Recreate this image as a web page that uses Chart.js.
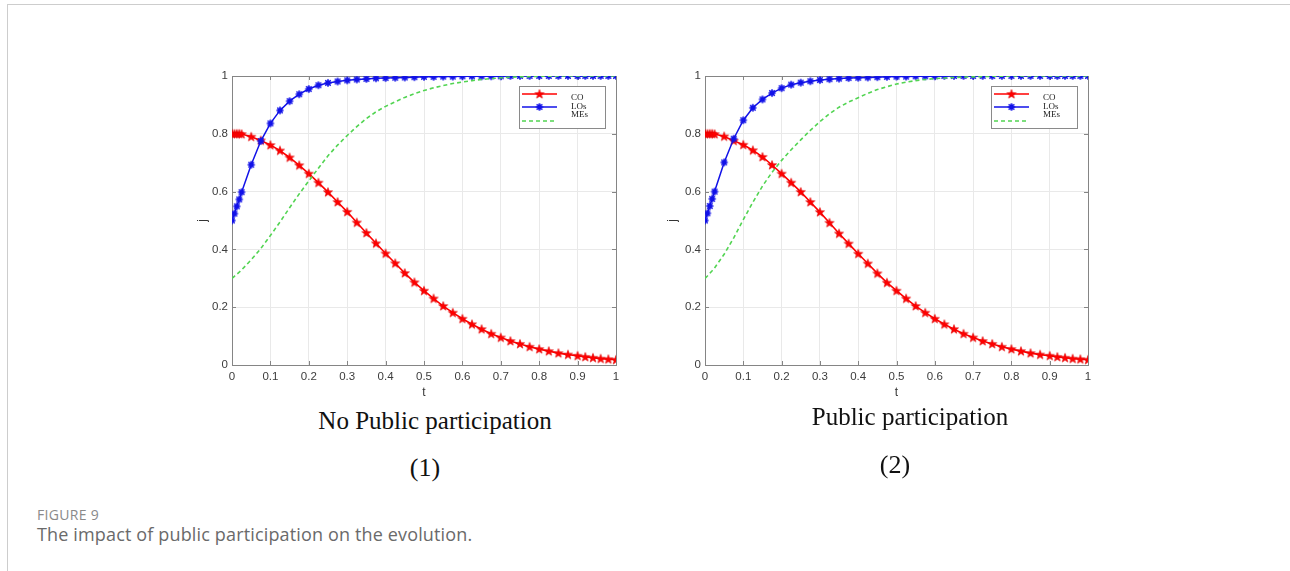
<!DOCTYPE html>
<html>
<head>
<meta charset="utf-8">
<script src="https://cdn.jsdelivr.net/npm/chart.js@4.4.1/dist/chart.umd.min.js"></script>
<style>
  html, body { margin: 0; padding: 0; background: #fff; }
  body { width: 1290px; height: 571px; position: relative; overflow: hidden; }
  .frame { position: absolute; left: 7px; top: 4px; width: 1300px; height: 620px;
           border-left: 1px solid #cdcdcd; border-top: 1px solid #cdcdcd; }
  canvas { position: absolute; }
  .sub { position: absolute; font-family: "Liberation Serif", "Times New Roman", serif;
         color: #111; white-space: nowrap; line-height: 1; transform: translateX(-50%); }
  .cap1 { position: absolute; left: 37px; top: 508px; font-family: "Open Sans", sans-serif;
          font-size: 14px; line-height: 1; color: #8a8a8a; letter-spacing: 0.3px; }
  .cap2 { position: absolute; left: 37px; top: 525px; font-family: "Open Sans", sans-serif;
          font-size: 18px; line-height: 1; color: #6a6a6a; letter-spacing: 0.15px; }
</style>
</head>
<body>
<div class="frame"></div>
<canvas id="chartNoPublic" width="470" height="350" style="left:170px;top:56px;width:470px;height:350px"></canvas>
<canvas id="chartPublic" width="470" height="350" style="left:643px;top:56px;width:470px;height:350px"></canvas>
<div class="sub" style="left:435px;top:408px;font-size:25px">No Public participation</div>
<div class="sub" style="left:425px;top:455px;font-size:26px">(1)</div>
<div class="sub" style="left:910px;top:404px;font-size:25px">Public participation</div>
<div class="sub" style="left:895px;top:452px;font-size:26px">(2)</div>
<div class="cap1">FIGURE 9</div>
<div class="cap2">The impact of public participation on the evolution.</div>
<script>
// time grid of the solver output
const tValues = [0, 0.00625, 0.0125, 0.01875, 0.025, 0.05, 0.075, 0.1, 0.125, 0.15,
  0.175, 0.2, 0.225, 0.25, 0.275, 0.3, 0.325, 0.35, 0.375, 0.4,
  0.425, 0.45, 0.475, 0.5, 0.525, 0.55, 0.575, 0.6, 0.625, 0.65,
  0.675, 0.7, 0.725, 0.75, 0.775, 0.8, 0.825, 0.85, 0.875, 0.9,
  0.92, 0.94, 0.96, 0.98, 1.0];

// (1) no public participation
const coNoPublic = [0.800, 0.800, 0.800, 0.800, 0.799, 0.790, 0.777, 0.761, 0.742, 0.718,
  0.691, 0.662, 0.631, 0.598, 0.564, 0.530, 0.493, 0.457, 0.421, 0.386,
  0.352, 0.318, 0.286, 0.257, 0.230, 0.204, 0.181, 0.160, 0.141, 0.124,
  0.108, 0.095, 0.083, 0.073, 0.063, 0.055, 0.048, 0.041, 0.036, 0.032,
  0.028, 0.025, 0.022, 0.020, 0.018];
const losNoPublic = [0.500, 0.524, 0.549, 0.573, 0.598, 0.693, 0.775, 0.836, 0.881, 0.913,
  0.937, 0.955, 0.968, 0.976, 0.981, 0.985, 0.988, 0.990, 0.992, 0.993,
  0.994, 0.995, 0.996, 0.997, 0.997, 0.998, 0.998, 0.999, 0.999, 0.999,
  0.999, 0.999, 1.000, 1.000, 1.000, 1.000, 1.000, 1.000, 1.000, 1.000,
  1.000, 1.000, 1.000, 1.000, 1.000];
const mesNoPublic = [0.300, 0.307, 0.314, 0.321, 0.329, 0.364, 0.403, 0.448, 0.495, 0.544,
  0.592, 0.637, 0.681, 0.724, 0.761, 0.794, 0.825, 0.853, 0.876, 0.895,
  0.911, 0.926, 0.939, 0.950, 0.959, 0.967, 0.974, 0.979, 0.984, 0.988,
  0.991, 0.994, 0.996, 0.997, 0.998, 0.999, 0.999, 1.000, 1.000, 1.000,
  1.000, 1.000, 1.000, 1.000, 1.000];

// (2) public participation
const coPublic = [0.800, 0.800, 0.800, 0.800, 0.799, 0.791, 0.776, 0.762, 0.743, 0.720,
  0.692, 0.662, 0.631, 0.599, 0.564, 0.529, 0.492, 0.455, 0.420, 0.385,
  0.351, 0.317, 0.285, 0.257, 0.230, 0.204, 0.181, 0.160, 0.141, 0.124,
  0.108, 0.095, 0.083, 0.073, 0.063, 0.055, 0.048, 0.041, 0.036, 0.032,
  0.028, 0.025, 0.022, 0.020, 0.018];
const losPublic = [0.500, 0.525, 0.550, 0.575, 0.600, 0.701, 0.783, 0.847, 0.890, 0.919,
  0.941, 0.958, 0.970, 0.977, 0.982, 0.986, 0.989, 0.991, 0.993, 0.994,
  0.995, 0.996, 0.997, 0.998, 0.998, 0.999, 0.999, 0.999, 1.000, 1.000,
  1.000, 1.000, 1.000, 1.000, 1.000, 1.000, 1.000, 1.000, 1.000, 1.000,
  1.000, 1.000, 1.000, 1.000, 1.000];
const mesPublic = [0.300, 0.308, 0.317, 0.326, 0.336, 0.383, 0.440, 0.503, 0.563, 0.619,
  0.667, 0.708, 0.745, 0.779, 0.812, 0.842, 0.869, 0.892, 0.910, 0.925,
  0.940, 0.953, 0.963, 0.972, 0.979, 0.984, 0.988, 0.991, 0.993, 0.995,
  0.996, 0.997, 0.998, 0.999, 0.999, 1.000, 1.000, 1.000, 1.000, 1.000,
  1.000, 1.000, 1.000, 1.000, 1.000];

const seriesNames = ['CO', 'LOs', 'MEs'];
const xTickLabels = ['0', '0.1', '0.2', '0.3', '0.4', '0.5', '0.6', '0.7', '0.8', '0.9', '1'];
const yTickLabels = ['0', '0.2', '0.4', '0.6', '0.8', '1'];
const xTitle = 't';
const yTitle = 'j';

const RED = '#ff0000';
const BLUE = '#1212e8';
const GREEN = '#52d452';
const TICK_FONT = { family: '"Liberation Sans", Arial, sans-serif', size: 11.5 };

// filled five-pointed star marker
function makeStar(color) {
  const c = document.createElement('canvas');
  c.width = 12; c.height = 12;
  const g = c.getContext('2d');
  g.beginPath();
  for (let i = 0; i < 10; i++) {
    const r = i % 2 === 0 ? 4.8 : 2.0;
    const a = -Math.PI / 2 + i * Math.PI / 5;
    const px = 6 + r * Math.cos(a), py = 6.3 + r * Math.sin(a);
    if (i === 0) g.moveTo(px, py); else g.lineTo(px, py);
  }
  g.closePath();
  g.fillStyle = color; g.fill();
  g.strokeStyle = '#e00000'; g.lineWidth = 0.6; g.stroke();
  return c;
}

// asterisk marker with a solid core
function makeAsterisk(color) {
  const c = document.createElement('canvas');
  c.width = 10; c.height = 10;
  const g = c.getContext('2d');
  g.fillStyle = color;
  g.beginPath(); g.arc(5, 5, 2.7, 0, Math.PI * 2); g.fill();
  g.strokeStyle = color; g.lineWidth = 1.2;
  g.beginPath();
  for (let i = 0; i < 4; i++) {
    const a = i * Math.PI / 4;
    g.moveTo(5 - 3.9 * Math.cos(a), 5 - 3.9 * Math.sin(a));
    g.lineTo(5 + 3.9 * Math.cos(a), 5 + 3.9 * Math.sin(a));
  }
  g.stroke();
  return c;
}

const starMarker = makeStar(RED);
const asteriskMarker = makeAsterisk(BLUE);

// axes box with inward ticks on all four sides, plus the boxed legend
const boxAndLegend = {
  id: 'boxAndLegend',
  beforeDatasetsDraw(chart) {
    const { ctx, chartArea: a, scales: { x, y } } = chart;
    ctx.save();
    ctx.strokeStyle = '#858585';
    ctx.lineWidth = 1;
    ctx.strokeRect(Math.round(a.left) + 0.5, Math.round(a.top) + 0.5,
      Math.round(a.right - a.left), Math.round(a.bottom - a.top));
    ctx.beginPath();
    x.ticks.forEach(t => {
      const px = Math.round(x.getPixelForValue(t.value)) + 0.5;
      ctx.moveTo(px, a.bottom); ctx.lineTo(px, a.bottom - 4);
      ctx.moveTo(px, a.top); ctx.lineTo(px, a.top + 4);
    });
    y.ticks.forEach(t => {
      const py = Math.round(y.getPixelForValue(t.value)) + 0.5;
      ctx.moveTo(a.left, py); ctx.lineTo(a.left + 4, py);
      ctx.moveTo(a.right, py); ctx.lineTo(a.right - 4, py);
    });
    ctx.stroke();
    ctx.restore();
  },
  afterDatasetsDraw(chart) {
    const { ctx, chartArea: a } = chart;
    const w = 86, h = 42;
    const left = Math.round(a.right - 11 - w), top = Math.round(a.top + 10);
    ctx.save();
    ctx.fillStyle = '#fff';
    ctx.fillRect(left, top, w, h);
    ctx.strokeStyle = '#8a8a8a';
    ctx.lineWidth = 1;
    ctx.strokeRect(left + 0.5, top + 0.5, w, h);
    const lineY = [8, 21, 35];
    const textY = [11.5, 20.5, 29];
    chart.data.datasets.forEach((ds, i) => {
      const yy = top + lineY[i];
      ctx.strokeStyle = ds.borderColor;
      ctx.lineWidth = ds.borderWidth;
      ctx.setLineDash(ds.borderDash || []);
      ctx.beginPath();
      ctx.moveTo(left + 3, yy); ctx.lineTo(left + 38, yy);
      ctx.stroke();
      ctx.setLineDash([]);
      if (ds.pointStyle && typeof ds.pointStyle === 'object') {
        const m = ds.pointStyle;
        ctx.drawImage(m, left + 20.5 - m.width / 2, yy - m.height / 2);
      }
      ctx.fillStyle = '#222';
      ctx.font = '9px "Liberation Serif", "Times New Roman", serif';
      ctx.textBaseline = 'middle';
      ctx.textAlign = 'left';
      ctx.fillText(ds.label, left + 52, top + textY[i]);
    });
    ctx.restore();
  }
};

function points(arr) {
  return tValues.map((t, i) => ({ x: t, y: arr[i] }));
}

function buildChart(id, co, los, mes, padLeft, padRight) {
  const yWidth = 62 - padLeft;
  return new Chart(document.getElementById(id), {
    type: 'line',
    data: {
      datasets: [
        { label: seriesNames[0], data: points(co), borderColor: RED, backgroundColor: RED,
          borderWidth: 1.6, pointStyle: starMarker, pointRadius: 4, tension: 0, order: 3 },
        { label: seriesNames[1], data: points(los), borderColor: BLUE, backgroundColor: BLUE,
          borderWidth: 1.5, pointStyle: asteriskMarker, pointRadius: 4, tension: 0, order: 2 },
        { label: seriesNames[2], data: points(mes), borderColor: GREEN, backgroundColor: GREEN,
          borderWidth: 1.6, borderDash: [4, 3], pointRadius: 0, tension: 0, order: 1 }
      ]
    },
    options: {
      responsive: false,
      animation: false,
      devicePixelRatio: 1,
      layout: { padding: { left: padLeft, right: padRight, top: 20, bottom: 2 } },
      plugins: { legend: { display: false }, tooltip: { enabled: false } },
      elements: { line: { fill: false } },
      scales: {
        x: {
          type: 'linear', min: 0, max: 1,
          afterBuildTicks: s => { s.ticks = xTickLabels.map(l => ({ value: parseFloat(l) })); },
          afterFit: s => { s.height = 39; },
          ticks: { callback: (v, i) => xTickLabels[i], padding: 5, maxRotation: 0, autoSkip: false,
                   font: TICK_FONT, color: '#3c3c3c' },
          grid: { color: '#e9e9e9', drawTicks: false },
          border: { display: false },
          title: { display: true, text: xTitle, color: '#333',
                   font: { family: '"Liberation Sans", Arial, sans-serif', size: 12 },
                   padding: { top: 4, bottom: 4 } }
        },
        y: {
          type: 'linear', min: 0, max: 1,
          afterBuildTicks: s => { s.ticks = yTickLabels.map(l => ({ value: parseFloat(l) })); },
          afterFit: s => { s.width = yWidth; },
          ticks: { callback: (v, i) => yTickLabels[i], padding: 4, autoSkip: false,
                   font: TICK_FONT, color: '#3c3c3c' },
          grid: { color: '#e9e9e9', drawTicks: false },
          border: { display: false },
          title: { display: true, text: yTitle, color: '#333',
                   font: { family: '"Liberation Sans", Arial, sans-serif', size: 12 },
                   padding: { top: 4, bottom: 4 } }
        }
      }
    },
    plugins: [boxAndLegend]
  });
}

buildChart('chartNoPublic', coNoPublic, losNoPublic, mesNoPublic, 21, 24);
buildChart('chartPublic', coPublic, losPublic, mesPublic, 18, 25);
</script>
</body>
</html>
